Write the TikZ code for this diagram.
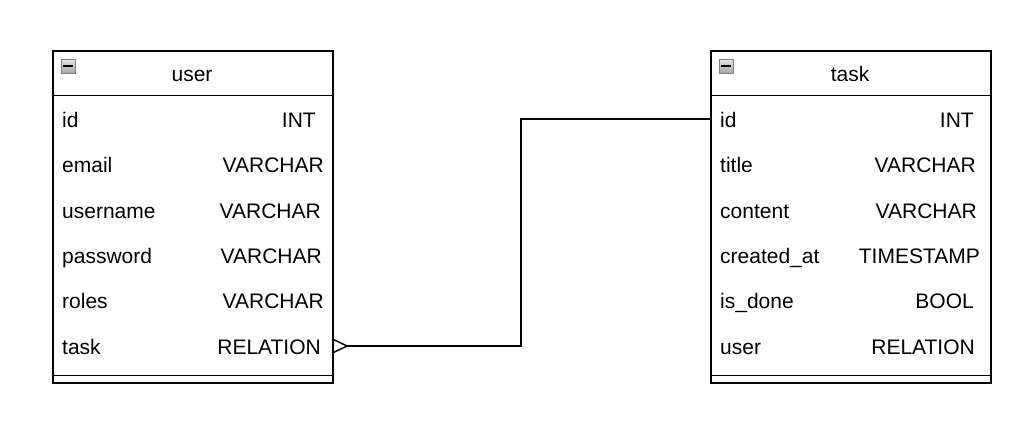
\documentclass[tikz,border=0pt]{standalone}
\usepackage{fontspec}
\setmainfont{Liberation Sans}
\begin{document}
\begin{tikzpicture}[x=1pt,y=-1pt,
  tbl/.style={draw=black,line width=1.8pt,rectangle,minimum width=280pt,minimum height=332pt,anchor=north west,inner sep=0pt},
  sep/.style={line width=1.8pt},
  lbl/.style={font=\fontsize{21}{25}\selectfont,anchor=base west,inner sep=0pt},
  typ/.style={font=\fontsize{21}{25}\selectfont,anchor=base east,inner sep=0pt},
  ttl/.style={font=\fontsize{21}{25}\selectfont,anchor=base,inner sep=0pt},
  rowbox/.style={rectangle,minimum width=280pt,minimum height=44pt,inner sep=0pt},
  icon/.style={rectangle,draw=black!50,line width=0.9pt,top color=black!10,bottom color=black!35,minimum size=14pt,inner sep=0pt,
    path picture={\fill[black] ([xshift=-4.8pt,yshift=-1.3pt]path picture bounding box.center) rectangle ([xshift=4.8pt,yshift=1.3pt]path picture bounding box.center);}},
  conn/.style={line width=1.5pt}]
\useasboundingbox (0,0) rectangle (1035,437);
\fill[white] (0,0) rectangle (1035,437);
% user table
\node[tbl] (user) at (52,50) {};
\draw[sep] (52,95.5) -- (332,95.5);
\draw[sep] (52,375.5) -- (332,375.5);
\node[icon] (uicon) at (68,66) {};
\node[ttl] (utitle) at (192,81) {user};
\node[rowbox] (uid) at (192,120) {};
\node[rowbox] (utask) at (192,346) {};
\node[lbl] (l1) at (62,127.5) {id};
\node[lbl] (l2) at (62,172.5) {email};
\node[lbl] (l3) at (62,218) {username};
\node[lbl] (l4) at (62,263.5) {password};
\node[lbl] (l5) at (62,308.5) {roles};
\node[lbl] (l6) at (62,354.5) {task};
\node[typ] (t1) at (316,127.5) {INT};
\node[typ] (t2) at (324,172.5) {VARCHAR};
\node[typ] (t3) at (321,218) {VARCHAR};
\node[typ] (t4) at (322,263.5) {VARCHAR};
\node[typ] (t5) at (324,308.5) {VARCHAR};
\node[typ] (t6) at (321,354.5) {RELATION};
% task table
\node[tbl] (task) at (710,50) {};
\draw[sep] (710,95.5) -- (990,95.5);
\draw[sep] (710,375.5) -- (990,375.5);
\node[icon] (ticon) at (726,66) {};
\node[ttl] (ttitle) at (850,81) {task};
\node[rowbox] (tid) at (850,119) {};
\node[lbl] (m1) at (720,127.5) {id};
\node[lbl] (m2) at (720,172.5) {title};
\node[lbl] (m3) at (720,218) {content};
\node[lbl] (m4) at (720,263.5) {created\_at};
\node[lbl] (m5) at (720,308.5) {is\_done};
\node[lbl] (m6) at (720,354.5) {user};
\node[typ] (s1) at (974,127.5) {INT};
\node[typ] (s2) at (976,172.5) {VARCHAR};
\node[typ] (s3) at (977,218) {VARCHAR};
\node[typ] (s4) at (980,263.5) {TIMESTAMP};
\node[typ] (s5) at (974,308.5) {BOOL};
\node[typ] (s6) at (975,354.5) {RELATION};
% connector
\coordinate (mid) at (521,0);
\draw[conn] ([xshift=15pt]utask.east) -- (utask.east -| mid) |- (tid.west);
\draw[conn] ([yshift=7pt]utask.east) -- ([xshift=15pt]utask.east) -- ([yshift=-7pt]utask.east);
\end{tikzpicture}
\end{document}
